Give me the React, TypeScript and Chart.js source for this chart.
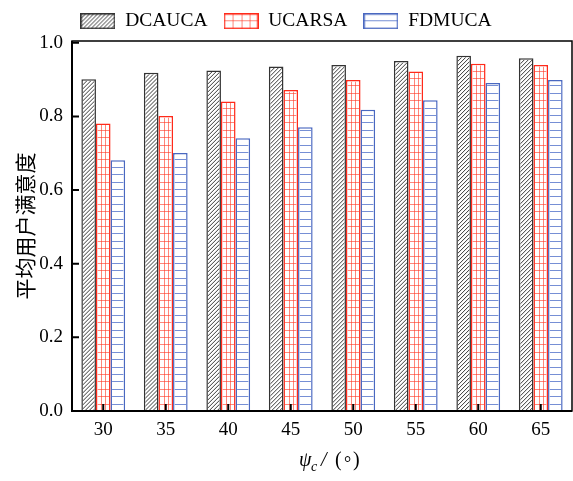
import { useEffect, useRef } from 'react';
import { Chart, registerables } from 'chart.js';

Chart.register(...registerables);

// ---- data ----
const categories = ['30', '35', '40', '45', '50', '55', '60', '65'];
const seriesNames = ['DCAUCA', 'UCARSA', 'FDMUCA'];
const dcauca = [0.901, 0.919, 0.925, 0.936, 0.940, 0.951, 0.965, 0.958];
const ucarsa = [0.781, 0.801, 0.841, 0.872, 0.899, 0.922, 0.943, 0.940];
const fdmuca = [0.681, 0.701, 0.741, 0.771, 0.818, 0.844, 0.891, 0.899];
const yTicks = [0, 0.2, 0.4, 0.6, 0.8, 1.0];
const yTitle = '平均用户满意度';

const SERIF = '"Liberation Serif", "Times New Roman", serif';
const borderColors = ['#333333', '#ff2a1a', '#4a68c0'];
const hatchKinds = ['diag', 'grid', 'hlines'];

function drawHatch(g: CanvasRenderingContext2D, kind: string, l: number, t: number, r: number, b: number, rowH: number, cols: number) {
  g.save();
  g.beginPath();
  g.rect(l, t, r - l, b - t);
  g.clip();
  g.beginPath();
  if (kind === 'diag') {
    g.strokeStyle = '#3a3a3a';
    g.lineWidth = 1;
    const h = b - t;
    for (let k = l - h; k < r + 4; k += 4) {
      g.moveTo(k, b);
      g.lineTo(k + h, t);
    }
    g.stroke();
  } else {
    g.strokeStyle = kind === 'grid' ? 'rgba(255,55,35,0.6)' : 'rgba(60,95,195,0.7)';
    g.lineWidth = 1;
    for (let yy = b - rowH; yy > t; yy -= rowH) {
      const py = Math.round(yy) + 0.5;
      g.moveTo(l, py);
      g.lineTo(r, py);
    }
    if (kind === 'grid') {
      const w = r - l;
      for (let i = 1; i < cols; i++) {
        const px = Math.round(l + (w * i) / cols) + 0.5;
        g.moveTo(px, t);
        g.lineTo(px, b);
      }
    }
    g.stroke();
  }
  g.restore();
}

function legendImage(kind: string, color: string): HTMLCanvasElement {
  const c = document.createElement('canvas');
  c.width = 35;
  c.height = 16;
  const g = c.getContext('2d') as CanvasRenderingContext2D;
  g.fillStyle = '#fff';
  g.fillRect(0, 0, 35, 16);
  if (kind === 'diag') {
    drawHatch(g, 'diag', 1, 1, 34, 15, 8, 4);
  } else {
    drawHatch(g, kind, 1, 1, 34, 15, 8, 4);
    if (kind === 'grid') {
      g.strokeStyle = 'rgba(255,55,35,0.6)';
    }
  }
  g.strokeStyle = color;
  g.lineWidth = 1.5;
  g.strokeRect(0.75, 0.75, 33.5, 14.5);
  return c;
}

const decorPlugin = {
  id: 'decor',
  afterDatasetsDraw(chart: any) {
    const g: CanvasRenderingContext2D = chart.ctx;
    chart.data.datasets.forEach((_ds: any, di: number) => {
      const meta = chart.getDatasetMeta(di);
      meta.data.forEach((el: any) => {
        const p = el.getProps(['x', 'y', 'base', 'width'], true);
        const bw = 1.5;
        const l = p.x - p.width / 2 + bw;
        const r = p.x + p.width / 2 - bw;
        const t = p.y + bw;
        const b = p.base;
        drawHatch(g, hatchKinds[di], l, t, r, b, 7.4, 3);
      });
    });
  },
  afterDraw(chart: any) {
    const g: CanvasRenderingContext2D = chart.ctx;
    const { left, right, top, bottom } = chart.chartArea;
    const xs = chart.scales.x;
    const ys = chart.scales.y;
    g.save();
    // frame
    g.strokeStyle = '#000';
    g.lineWidth = 1.5;
    g.strokeRect(left, top, right - left, bottom - top);
    g.lineWidth = 2;
    g.beginPath();
    g.moveTo(left, top);
    g.lineTo(left, bottom);
    g.lineTo(right, bottom);
    g.stroke();
    // inward ticks
    g.beginPath();
    yTicks.forEach((v) => {
      const py = ys.getPixelForValue(v);
      g.moveTo(left, py);
      g.lineTo(left + 7, py);
    });
    categories.forEach((_c, i) => {
      const px = xs.getPixelForValue(i);
      g.moveTo(px, bottom);
      g.lineTo(px, bottom - 7);
    });
    g.stroke();

    // y title
    g.fillStyle = '#000';
    g.save();
    g.translate(25, (top + bottom) / 2);
    g.rotate(-Math.PI / 2);
    g.font = '21px "Noto Sans CJK SC"';
    g.textAlign = 'center';
    g.textBaseline = 'middle';
    g.fillText(yTitle, 0, 0);
    g.restore();

    // x title: ψc/(°)
    const x0 = (left + right) / 2 - 23;
    const base = 466;
    g.textAlign = 'left';
    g.textBaseline = 'alphabetic';
    g.font = `italic 20px ${SERIF}`;
    g.fillText('ψ', x0, base);
    g.font = `italic 14px ${SERIF}`;
    g.fillText('c', x0 + 12, base + 5);
    g.font = `italic 20px ${SERIF}`;
    g.fillText('/', x0 + 22, base);
    g.font = `20px ${SERIF}`;
    g.fillText('(', x0 + 36, base);
    g.font = `18px ${SERIF}`;
    g.fillText('°', x0 + 45, base + 3);
    g.font = `20px ${SERIF}`;
    g.fillText(')', x0 + 54, base);
    g.restore();
  },
};

export default function App() {
  const ref = useRef<HTMLCanvasElement | null>(null);

  useEffect(() => {
    if (!ref.current) return;
    const imgs = hatchKinds.map((k, i) => legendImage(k, borderColors[i]));
    const values = [dcauca, ucarsa, fdmuca];
    const chart = new Chart(ref.current, {
      type: 'bar',
      data: {
        labels: categories,
        datasets: seriesNames.map((name, i) => ({
          label: name,
          data: values[i],
          backgroundColor: '#ffffff',
          borderColor: borderColors[i],
          borderWidth: 1.5,
          borderSkipped: 'bottom',
          categoryPercentage: 0.7,
          barPercentage: 1,
        })),
      },
      options: {
        responsive: false,
        animation: false,
        events: [],
        layout: { padding: { top: -4.5, right: 1, left: 0, bottom: 0 } },
        plugins: {
          tooltip: { enabled: false },
          legend: {
            position: 'top',
            labels: {
              usePointStyle: true,
              pointStyleWidth: 35,
              boxHeight: 16,
              padding: 16,
              color: '#000',
              font: { family: SERIF, size: 19.5 },
              generateLabels: (ch: any) => {
                const items = (Chart.defaults.plugins.legend.labels as any).generateLabels(ch);
                return items.map((it: any, i: number) => ({
                  ...it,
                  pointStyle: imgs[i],
                  fillStyle: '#fff',
                  strokeStyle: 'rgba(0,0,0,0)',
                  lineWidth: 0,
                }));
              },
            },
          },
        },
        scales: {
          x: {
            type: 'category',
            grid: { display: false, drawTicks: false },
            border: { display: false },
            ticks: {
              color: '#000',
              font: { family: SERIF, size: 19 },
              padding: 8,
              maxRotation: 0,
            },
            afterFit: (s: any) => {
              s.height = 70;
            },
          },
          y: {
            min: 0,
            max: 1.005,
            grid: { display: false, drawTicks: false },
            border: { display: false },
            ticks: {
              color: '#000',
              font: { family: SERIF, size: 19 },
              padding: 9,
              callback: (v: any) => Number(v).toFixed(1),
            },
            afterBuildTicks: (s: any) => {
              s.ticks = yTicks.map((v) => ({ value: v }));
            },
            afterFit: (s: any) => {
              s.width = 72;
            },
          },
        },
      } as any,
      plugins: [decorPlugin],
    });
    return () => chart.destroy();
  }, []);

  return (
    <div style={{ position: 'fixed', left: 0, top: 0, width: 573, height: 481, background: '#fff' }}>
      <canvas ref={ref} width={573} height={481} style={{ display: 'block' }} />
    </div>
  );
}
